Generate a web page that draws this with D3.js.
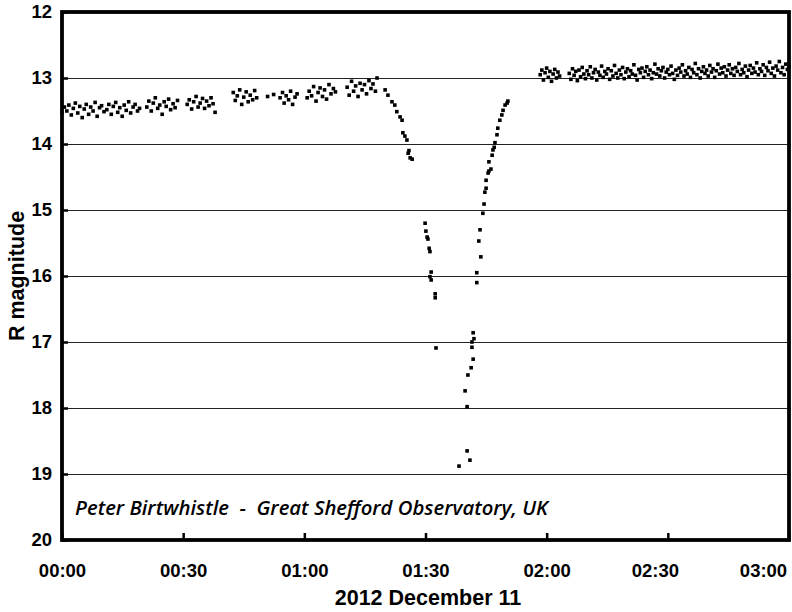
<!DOCTYPE html>
<html>
<head>
<meta charset="utf-8">
<script src="https://cdn.jsdelivr.net/npm/d3@7"></script>
<style>
  body { margin: 0; background: #fff; }
  svg { display: block; }
  .tick text { font-family: "Liberation Sans", Arial, sans-serif; font-weight: bold; font-size: 18.5px; fill: #000; }
</style>
</head>
<body>
<svg id="chart" width="792" height="612"></svg>
<script>
// minutes after 00:00 UT, R magnitude
const baseline = [
  [0.0,13.52],[0.6,13.44],[1.2,13.50],[1.7,13.41],[2.3,13.56],[2.8,13.46],[3.3,13.38],[3.9,13.53],[4.4,13.43],[5.0,13.60],
  [5.5,13.47],[6.0,13.40],[6.6,13.55],[7.1,13.44],[7.7,13.50],[8.2,13.37],[8.7,13.58],[9.3,13.45],[9.8,13.42],[10.4,13.51],
  [11.1,13.48],[11.6,13.40],[12.2,13.55],[12.7,13.43],[13.3,13.37],[13.8,13.52],[14.3,13.45],[14.9,13.58],[15.4,13.41],[15.9,13.49],
  [16.5,13.36],[17.0,13.53],[17.6,13.44],[18.1,13.40],[18.7,13.50],[19.2,13.46],
  [21.0,13.44],[21.5,13.35],[22.1,13.50],[22.6,13.38],[23.1,13.30],[23.7,13.46],[24.2,13.41],[24.8,13.55],[25.3,13.36],[25.8,13.43],
  [26.4,13.32],[26.9,13.48],[27.5,13.39],[28.0,13.45],[28.6,13.34],
  [31.0,13.40],[31.5,13.33],[32.1,13.47],[32.6,13.36],[33.2,13.28],[33.7,13.44],[34.2,13.38],[34.8,13.31],[35.3,13.46],[35.8,13.35],
  [36.4,13.42],[36.9,13.30],[37.4,13.39],[37.9,13.52],
  [42.4,13.22],[42.9,13.34],[43.4,13.27],[44.0,13.18],[44.5,13.40],[45.0,13.29],[45.6,13.21],[46.1,13.36],[46.6,13.26],[47.2,13.33],
  [47.7,13.19],[48.2,13.30],
  [50.9,13.28],[52.4,13.25],[54.0,13.30],[54.6,13.22],[55.0,13.38],[55.5,13.27],[56.1,13.33],[56.6,13.20],[57.1,13.40],[57.7,13.29],
  [58.2,13.24],
  [60.7,13.30],[61.2,13.20],[61.8,13.27],[62.3,13.13],[62.9,13.35],[63.4,13.22],[63.9,13.15],[64.5,13.28],[65.0,13.18],[65.5,13.32],
  [66.1,13.10],[66.6,13.24],[67.2,13.16],[67.7,13.21],
  [70.6,13.14],[71.1,13.26],[71.7,13.05],[72.2,13.20],[72.7,13.12],[73.3,13.28],[73.8,13.08],[74.3,13.18],[74.9,13.10],[75.4,13.24],
  [76.0,13.04],[76.5,13.16],[77.0,13.09],[77.6,13.20],[78.0,13.00]
];

const ingress = [
  [80.0,13.18],[80.7,13.26],[81.7,13.36],[82.4,13.41],[82.9,13.51],[83.7,13.59],[84.2,13.64],[84.4,13.83],[84.9,13.88],[85.4,13.94],
  [85.7,14.14],[85.9,14.10],[86.2,14.21],[86.7,14.23],
  [89.9,15.20],[90.1,15.32],[90.4,15.41],[90.6,15.44],[90.9,15.58],[91.1,15.63],[91.4,15.94],[91.1,16.01],[91.4,16.06],[92.4,16.27],
  [92.4,16.33],[92.6,17.09]
];

const egress = [
  [98.3,18.88],[100.3,18.65],[101.0,18.79],[100.3,17.98],[99.8,17.74],[100.5,17.50],[101.3,17.39],[101.8,17.26],[101.5,17.08],[101.5,17.00],
  [102.0,16.95],[101.8,16.86],[102.7,16.10],[102.7,15.95],[103.7,15.71],[103.2,15.47],[103.5,15.30],[104.2,15.05],[104.5,14.91],[104.7,14.73],
  [105.0,14.67],[105.0,14.55],[105.5,14.44],[105.7,14.41],[106.2,14.38],[105.7,14.27],[106.5,14.17],[106.7,14.09],[107.0,14.05],[107.2,13.98],
  [107.7,13.86],[107.9,13.76],[108.4,13.64],[108.9,13.56],[109.2,13.49],[109.7,13.41],[110.2,13.38],[110.4,13.35]
];

const afterEclipse = [
  [118.4,12.95],[118.8,12.88],[119.2,13.03],[119.6,12.92],[120.0,12.85],[120.4,12.99],[120.8,12.90],[121.2,13.05],[121.6,12.94],[122.0,12.87],
  [122.4,13.00],[122.8,12.91],[123.2,12.97],
  [125.6,12.93],[126.0,13.02],[126.4,12.86],[126.8,12.96],[127.2,12.90],[127.6,13.04],[128.0,12.88],[128.4,12.98],[128.8,12.84],[129.2,12.94],
  [129.6,13.01],[130.0,12.89],[130.4,12.95],[130.8,12.83],[131.2,13.00],[131.6,12.92],[132.0,12.87],[132.4,13.03],[132.8,12.91],[133.2,12.96],
  [133.6,12.82],[134.0,12.99],[134.4,12.90],[134.8,12.94],[135.2,12.86],[135.6,13.02],[136.0,12.89],[136.4,12.97],[136.8,12.81],[137.2,12.93],
  [137.6,13.00],[138.0,12.88],[138.4,12.95],[138.8,12.84],[139.2,13.01],[139.6,12.91],[140.0,12.86],[140.4,12.98],[140.8,12.89],[141.2,12.94],
  [141.6,12.80],[142.0,12.96],[142.4,13.03],[142.8,12.87],[143.2,12.92],[143.6,12.85],[144.0,12.99],[144.4,12.90],[144.8,12.83],[145.2,12.95],
  [145.6,12.88],[146.0,13.01],[146.4,12.92],[146.8,12.79],[147.2,12.94],[147.6,12.86],[148.0,12.97],[148.4,12.89],[148.8,12.84],[149.2,13.00],
  [149.6,12.91],[150.0,12.87],[150.4,12.95],[150.8,12.82],[151.2,12.93],[151.6,13.02],[152.0,12.88],[152.4,12.96],[152.8,12.85],[153.2,12.91],
  [153.6,12.80],[154.0,12.97],[154.4,12.89],[154.8,12.94],[155.2,12.84],[155.6,12.99],[156.0,12.87],[156.4,12.92],[156.8,12.78],[157.2,12.95],
  [157.6,12.86],[158.0,13.00],[158.4,12.90],[158.8,12.83],[159.2,12.93],[159.6,12.88],[160.0,12.97],[160.4,12.81],[160.8,12.91],[161.2,12.86],
  [161.6,12.99],[162.0,12.89],[162.4,12.79],[162.8,12.94],[163.2,12.85],[163.6,12.92],[164.0,12.83],[164.4,12.97],[164.8,12.88],[165.2,12.80],
  [165.6,12.93],[166.0,12.86],[166.4,12.96],[166.8,12.84],[167.2,12.90],[167.6,12.78],[168.0,12.95],[168.4,12.87],[168.8,12.92],[169.2,12.82],
  [169.6,12.98],[170.0,12.88],[170.4,12.81],[170.8,12.93],[171.2,12.85],[171.6,12.91],[172.0,12.77],[172.4,12.95],[172.8,12.86],[173.2,12.90],
  [173.6,12.80],[174.0,12.96],[174.4,12.84],[174.8,12.89],[175.2,12.76],[175.6,12.93],[176.0,12.85],[176.4,12.97],[176.8,12.82],[177.2,12.88],
  [177.6,12.75],[178.0,12.92],[178.4,12.84],[178.8,12.95],[179.2,12.79],[179.6,12.87],[180.0,12.83]
];

const magTicks = [12, 13, 14, 15, 16, 17, 18, 19, 20];
const timeTicks = [0, 30, 60, 90, 120, 150, 180];
const timeLabels = ['00:00', '00:30', '01:00', '01:30', '02:00', '02:30', '03:00'];

const svg = d3.select('#chart');
const plotLeft = 62, plotRight = 789, plotTop = 12, plotBottom = 540;

const x = d3.scaleLinear().domain([0, 180]).range([plotLeft, plotRight]);
const y = d3.scaleLinear().domain([12, 20]).range([plotTop, plotBottom]);

// grid
svg.append('g')
    .attr('shape-rendering', 'crispEdges')
    .selectAll('line')
    .data(magTicks.slice(1, -1))
    .enter()
    .append('line')
    .attr('x1', plotLeft)
    .attr('x2', plotRight)
    .attr('y1', d => y(d) + 0.5)
    .attr('y2', d => y(d) + 0.5)
    .attr('stroke', '#222')
    .attr('stroke-width', 1);

// axes (ticks point inward)
const yAxis = svg.append('g')
    .attr('transform', `translate(${plotLeft},0)`)
    .call(d3.axisLeft(y).tickValues(magTicks).tickSize(-6).tickPadding(10).tickFormat(d3.format('d')));

const xAxis = svg.append('g')
    .attr('transform', `translate(0,${plotBottom})`)
    .call(d3.axisBottom(x).tickValues(timeTicks).tickSize(-7).tickPadding(24)
        .tickFormat((d, i) => timeLabels[i]));

[yAxis, xAxis].forEach(a => {
    a.select('.domain').remove();
    a.selectAll('.tick line').attr('stroke', '#000').attr('stroke-width', 2.5);
});

// last two labels are nudged left in the original
xAxis.selectAll('.tick text')
    .attr('dx', (d, i) => i === 5 ? -13 : i === 6 ? -26 : 0);

// frame
svg.append('rect')
    .attr('x', plotLeft)
    .attr('y', plotTop)
    .attr('width', plotRight - plotLeft)
    .attr('height', plotBottom - plotTop)
    .attr('fill', 'none')
    .attr('stroke', '#000')
    .attr('stroke-width', 3.8);

// points
const all = baseline.concat(ingress, egress, afterEclipse);
svg.append('g')
    .selectAll('rect')
    .data(all)
    .enter()
    .append('rect')
    .attr('x', d => x(d[0]) - 1.8)
    .attr('y', d => y(d[1]) - 1.8)
    .attr('width', 3.6)
    .attr('height', 3.6)
    .attr('fill', '#000');

// titles
svg.append('text')
    .attr('x', 428)
    .attr('y', 605)
    .attr('text-anchor', 'middle')
    .style('font-family', '"Liberation Sans", Arial, sans-serif')
    .style('font-weight', 'bold')
    .style('font-size', '21.5px')
    .text('2012 December 11');

svg.append('text')
    .attr('transform', 'translate(24,' + ((plotTop + plotBottom) / 2) + ') rotate(-90)')
    .attr('text-anchor', 'middle')
    .style('font-family', '"Liberation Sans", Arial, sans-serif')
    .style('font-weight', 'bold')
    .style('font-size', '21.5px')
    .text('R magnitude');

svg.append('text')
    .attr('x', 75)
    .attr('y', 515)
    .attr('textLength', 473)
    .attr('lengthAdjust', 'spacingAndGlyphs')
    .style('white-space', 'pre')
    .style('font-family', '"Open Sans", sans-serif')
    .style('font-style', 'italic')
    .style('font-weight', '600')
    .style('font-size', '19px')
    .text('Peter Birtwhistle  -  Great Shefford Observatory, UK');
</script>
</body>
</html>
